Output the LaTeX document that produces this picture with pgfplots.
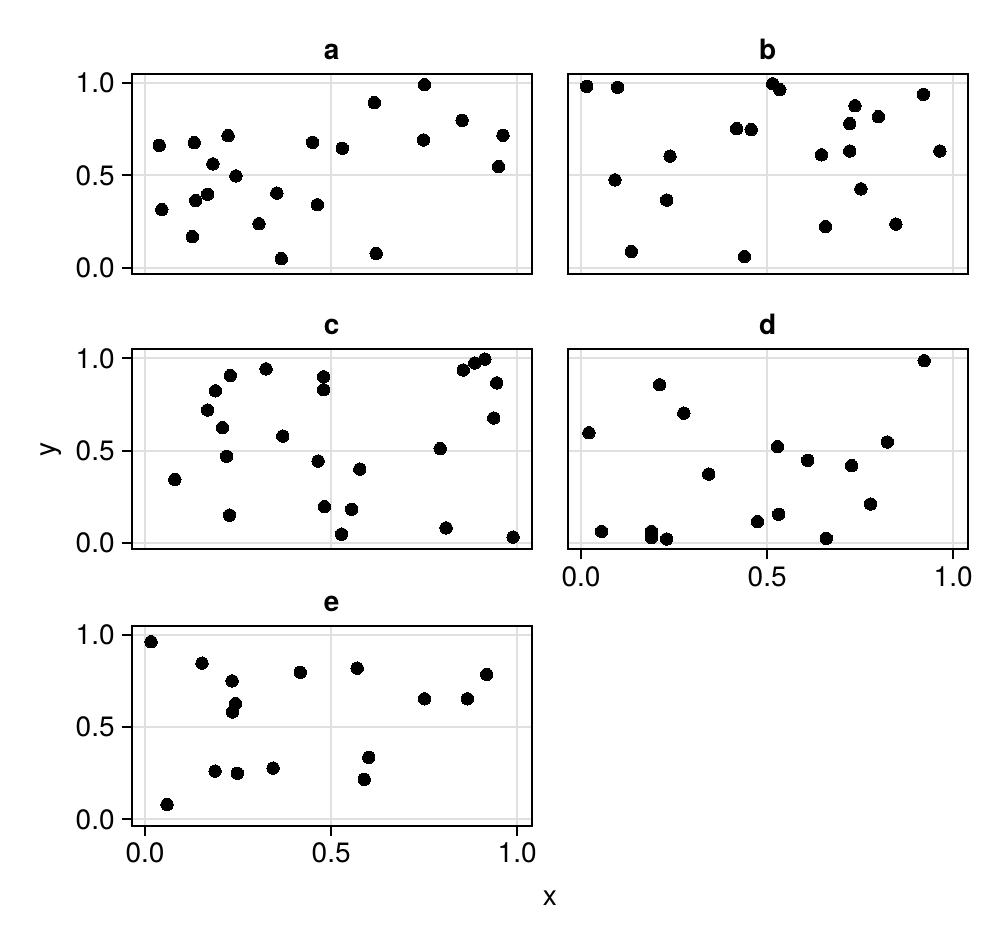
\documentclass[border=0pt]{standalone}
\usepackage{pgfplots}
\pgfplotsset{compat=1.18}
\usepackage{fontspec}
\setmainfont{TeX Gyre Heros}
\pgfplotsset{
  panel/.style={
    width=200pt, height=100pt, scale only axis,
    xmin=-0.036, xmax=1.039, ymin=-0.034, ymax=1.049,
    xtick={0,0.5,1}, ytick={0,0.5,1},
    xticklabels={0.0,0.5,1.0}, yticklabels={0.0,0.5,1.0},
    grid=major, major grid style={black!12, line width=1pt},
    axis line style={line width=1pt},
    tick style={black, line width=1pt},
    tick align=outside, major tick length=5pt,
    xtick pos=bottom, ytick pos=left,
    ticklabel style={font=\fontsize{14}{17}\selectfont},
    /pgf/number format/assume math mode=true,
    title style={font=\fontsize{14}{17}\selectfont\bfseries, yshift=-2.5pt},
    anchor=south west,
  },
  pts/.style={only marks, mark=*, mark size=3.1pt, color=black, mark options={fill=black, draw=black, line width=0pt}},
  noxt/.style={xticklabels={}, xtick style={draw=none}},
  noyt/.style={yticklabels={}, ytick style={draw=none}},
}
\begin{document}
\begin{tikzpicture}[font=\fontsize{14}{17}\selectfont]
\path[use as bounding box] (0,0) rectangle (500pt,472pt);
% a
\begin{axis}[panel, noxt, at={(65.85pt,335pt)}, title={a}]
\addplot[pts] coordinates {
(0.038,0.663) (0.045,0.315) (0.127,0.168) (0.132,0.677) (0.136,0.364)
(0.168,0.398) (0.182,0.562) (0.223,0.715) (0.244,0.497) (0.306,0.238)
(0.354,0.404) (0.366,0.049) (0.450,0.679) (0.463,0.341) (0.530,0.647)
(0.616,0.894) (0.621,0.077) (0.748,0.692) (0.751,0.991) (0.852,0.798)
(0.950,0.548) (0.962,0.717)};
\end{axis}
% b
\begin{axis}[panel, noxt, noyt, at={(283.85pt,335pt)}, title={b}]
\addplot[pts] coordinates {
(0.015,0.982) (0.098,0.977) (0.091,0.476) (0.135,0.088) (0.239,0.604)
(0.230,0.366) (0.418,0.753) (0.457,0.748) (0.439,0.061) (0.515,0.996)
(0.534,0.964) (0.646,0.611) (0.657,0.223) (0.722,0.780) (0.722,0.632)
(0.736,0.877) (0.752,0.427) (0.799,0.818) (0.846,0.236) (0.920,0.939)
(0.964,0.632)};
\end{axis}
% c
\begin{axis}[panel, noxt, at={(65.85pt,197.35pt)}, title={c}]
\addplot[pts] coordinates {
(0.080,0.344) (0.168,0.720) (0.189,0.824) (0.208,0.625) (0.219,0.470)
(0.229,0.907) (0.227,0.151) (0.325,0.943) (0.370,0.579) (0.465,0.444)
(0.480,0.900) (0.480,0.830) (0.482,0.197) (0.528,0.048) (0.555,0.183)
(0.577,0.400) (0.793,0.511) (0.809,0.082) (0.855,0.937) (0.886,0.975)
(0.913,0.996) (0.945,0.867) (0.937,0.677) (0.989,0.032)};
\end{axis}
% d
\begin{axis}[panel, noyt, at={(283.85pt,197.35pt)}, title={d}]
\addplot[pts] coordinates {
(0.021,0.597) (0.055,0.063) (0.189,0.063) (0.189,0.030) (0.230,0.022)
(0.211,0.857) (0.276,0.703) (0.343,0.373) (0.474,0.116) (0.528,0.522)
(0.531,0.156) (0.609,0.448) (0.659,0.025) (0.727,0.419) (0.778,0.211)
(0.823,0.547) (0.922,0.987)};
\end{axis}
% e
\begin{axis}[panel, at={(65.85pt,59.15pt)}, title={e}]
\addplot[pts] coordinates {
(0.016,0.962) (0.059,0.081) (0.153,0.846) (0.188,0.262) (0.234,0.750)
(0.243,0.627) (0.235,0.582) (0.248,0.250) (0.344,0.278) (0.417,0.797)
(0.570,0.819) (0.601,0.336) (0.589,0.217) (0.751,0.653) (0.866,0.653)
(0.918,0.785)};
\end{axis}
\node at (274.9pt,23pt) {x};
\node[rotate=90] at (25.4pt,247.2pt) {y};
\end{tikzpicture}
\end{document}
